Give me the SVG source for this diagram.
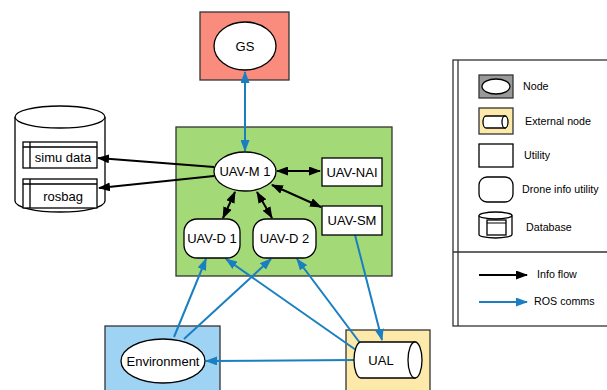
<svg xmlns="http://www.w3.org/2000/svg" width="607" height="390" viewBox="0 0 607 390">
<defs>
<marker id="ab" markerUnits="userSpaceOnUse" markerWidth="12" markerHeight="9" refX="11" refY="4.5" orient="auto-start-reverse"><path d="M0,0 L12,4.5 L0,9 Z" fill="#000"/></marker>
<marker id="au" markerUnits="userSpaceOnUse" markerWidth="12" markerHeight="9" refX="11" refY="4.5" orient="auto-start-reverse"><path d="M0,0 L12,4.5 L0,9 Z" fill="#1a7fc1"/></marker>
<style>
text{font-family:"Liberation Sans",Arial,sans-serif;font-size:13px;fill:#000}
.lg{font-size:10.7px}
.c{text-anchor:middle}
.s{stroke:#333;stroke-width:1.3}
.w{fill:#fff;stroke:#000;stroke-width:1.3}
.bk{stroke:#000;stroke-width:2;fill:none}
.bl{stroke:#1a7fc1;stroke-width:2;fill:none}
</style>
</defs>
<rect width="607" height="390" fill="#fff"/>

<g id="gs-box"><rect x="200" y="12" width="89" height="68" fill="#fa8c7d" class="s"/></g>
<g id="uav-box"><rect x="176" y="127" width="216" height="149" fill="#a3d977" class="s"/></g>
<g id="env-box"><rect x="105" y="326" width="115" height="70" fill="#9fd3f3" class="s"/></g>
<g id="ual-box"><rect x="346" y="330" width="84" height="66" fill="#fde9a9" class="s"/></g>

<g id="database">
<path d="M15,117 L15,201 A45,11 0 0 0 105,201 L105,117" class="w"/>
<ellipse cx="60" cy="117" rx="45" ry="11" class="w"/>
<g id="simu-data"><rect x="23" y="142" width="74" height="26" class="w"/><path d="M30,142 V168 M23,147 H97" stroke="#000" stroke-width="1.3" fill="none"/><text x="63" y="162" class="c">simu data</text></g>
<g id="rosbag"><rect x="23" y="179" width="74" height="29" class="w"/><path d="M30,179 V208 M23,184 H97" stroke="#000" stroke-width="1.3" fill="none"/><text x="63" y="201" class="c">rosbag</text></g>
</g>

<g id="connectors">
<line x1="245" y1="72" x2="245" y2="151" class="bl" marker-start="url(#au)" marker-end="url(#au)"/>
<line x1="214" y1="167" x2="98" y2="158" class="bk" marker-end="url(#ab)"/>
<line x1="214" y1="176" x2="99" y2="188" class="bk" marker-end="url(#ab)"/>
<line x1="277" y1="171" x2="320" y2="171" class="bk" marker-start="url(#ab)" marker-end="url(#ab)"/>
<line x1="272" y1="185" x2="321" y2="207" class="bk" marker-start="url(#ab)" marker-end="url(#ab)"/>
<line x1="235" y1="192" x2="223" y2="218" class="bk" marker-start="url(#ab)" marker-end="url(#ab)"/>
<line x1="257" y1="192" x2="272" y2="218" class="bk" marker-start="url(#ab)" marker-end="url(#ab)"/>
<line x1="174" y1="337" x2="206" y2="259" class="bl" marker-end="url(#au)"/>
<line x1="184" y1="339" x2="271" y2="259" class="bl" marker-end="url(#au)"/>
<line x1="356" y1="350" x2="226" y2="259" class="bl" marker-end="url(#au)"/>
<line x1="360" y1="343" x2="297" y2="259" class="bl" marker-end="url(#au)"/>
<line x1="355" y1="235" x2="382" y2="340" class="bl" marker-end="url(#au)"/>
<line x1="354" y1="360" x2="206" y2="361" class="bl" marker-end="url(#au)"/>
</g>

<g id="gs"><ellipse cx="245" cy="46" rx="31" ry="24" class="w"/><text x="245" y="51" class="c">GS</text></g>
<g id="uav-m1"><ellipse cx="245" cy="171.5" rx="31" ry="19.5" class="w"/><text x="245" y="176" class="c">UAV-M 1</text></g>
<g id="uav-nai"><rect x="322" y="158" width="60" height="28" class="w"/><text x="352" y="176.5" class="c">UAV-NAI</text></g>
<g id="uav-sm"><rect x="322" y="206" width="60" height="29" class="w"/><text x="352" y="225" class="c">UAV-SM</text></g>
<g id="uav-d1"><rect x="184" y="219" width="56" height="39" rx="13" class="w"/><text x="212" y="243" class="c">UAV-D 1</text></g>
<g id="uav-d2"><rect x="253" y="219" width="63" height="39" rx="13" class="w"/><text x="284.5" y="243" class="c">UAV-D 2</text></g>
<g id="environment"><ellipse cx="163" cy="361" rx="42" ry="22" class="w"/><text x="163" y="365.5" class="c">Environment</text></g>
<g id="ual"><path d="M361,342 L415,342 L415,378 L361,378 A7,18 0 0 1 361,342 Z" class="w"/><ellipse cx="415" cy="360" rx="7" ry="18" class="w"/><text x="381" y="365" class="c">UAL</text></g>

<g id="legend">
<rect x="453" y="60" width="170" height="266" fill="#fff" stroke="#333" stroke-width="1.3"/>
<line x1="458" y1="60" x2="458" y2="326" stroke="#333" stroke-width="1.3"/>
<line x1="453" y1="252" x2="607" y2="252" stroke="#333" stroke-width="1.3"/>
<rect x="479" y="75" width="34" height="23" fill="#999" class="s"/>
<ellipse cx="496" cy="86.5" rx="14" ry="7.5" class="w"/>
<text x="523" y="90" class="lg">Node</text>
<rect x="479" y="108" width="34" height="26" fill="#fde9a9" class="s"/>
<path d="M486,116 L505,116 L505,128 L486,128 A3,6 0 0 1 486,116 Z" class="w"/>
<ellipse cx="505" cy="122" rx="3" ry="6" class="w"/>
<text x="525" y="124.5" class="lg">External node</text>
<rect x="479" y="144" width="34" height="23" class="w"/>
<text x="524" y="159" class="lg">Utility</text>
<rect x="479" y="177" width="34" height="25" rx="8" class="w"/>
<text x="522" y="193" class="lg">Drone info utility</text>
<path d="M479,215.5 L479,234.5 A16.5,3.5 0 0 0 512,234.5 L512,215.5" class="w"/>
<ellipse cx="495.5" cy="215.5" rx="16.5" ry="3.5" class="w"/>
<rect x="487" y="220" width="19" height="15" class="w"/>
<line x1="487" y1="223" x2="506" y2="223" stroke="#000" stroke-width="1"/>
<text x="526" y="231" class="lg">Database</text>
<line x1="479" y1="275" x2="527" y2="275" class="bk" marker-end="url(#ab)"/>
<text x="537" y="278" class="lg">Info flow</text>
<line x1="479" y1="302" x2="527" y2="302" class="bl" marker-end="url(#au)"/>
<text x="534" y="305" class="lg">ROS comms</text>
</g>
</svg>
